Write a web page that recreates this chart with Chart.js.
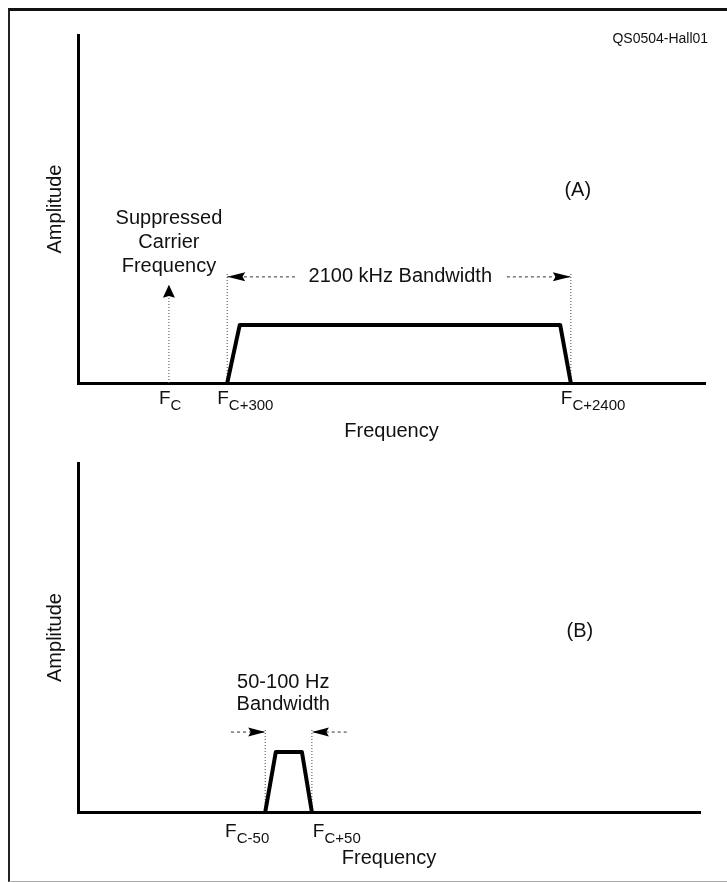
<!DOCTYPE html>
<html>
<head>
<meta charset="utf-8">
<script src="https://cdn.jsdelivr.net/npm/chart.js@4.4.1/dist/chart.umd.min.js"></script>
<style>
  html, body { margin: 0; padding: 0; background: #fff; }
  #page { position: relative; width: 727px; height: 882px; overflow: hidden; }
  #frame { position: absolute; left: 8px; top: 8px; width: 730px; height: 870px;
           border-left: 2px solid #222; border-top: 3px solid #111; border-bottom: 1px solid #aaa; }
  canvas { position: absolute; left: 0; }
  #chartA { top: 0; }
  #chartB { top: 445px; }
</style>
</head>
<body>
<div id="page">
  <div id="frame"></div>
  <canvas id="chartA" width="727" height="445"></canvas>
  <canvas id="chartB" width="727" height="437"></canvas>
</div>
<script>
// ===== data (schematic units, both axes run 0-100) =====

// (A) voice passband
const tickValuesA = [14.5, 23.8, 78.6];
const tickSubsA = ['C', 'C+300', 'C+2400'];
const bandAx = [23.8, 25.8, 76.9, 78.6];
const bandAy = [0, 16.7, 16.7, 0];
const carrierAy = [0, 28.2];
const edgeLinesAy = [0, 31.9];
const arrowLeftAx = [34.6, 23.8];
const arrowRightAx = [68.4, 78.6];
const arrowAy = 30.5;

// (B) narrow passband
const tickValuesB = [30.1, 37.6];
const tickSubsB = ['C-50', 'C+50'];
const bandBx = [30.1, 31.8, 36.0, 37.6];
const bandBy = [0, 17.2, 17.2, 0];
const edgeLinesBy = [0, 24];
const arrowLeftBx = [24.6, 30.1];
const arrowRightBx = [43.2, 37.6];
const arrowBy = 22.9;

const FONT = '"Liberation Sans", Arial, sans-serif';
const INK = '#111';

const pts = (xs, ys) => xs.map((x, i) => ({ x, y: ys[i] }));
const flat = (xs, y) => xs.map(x => ({ x, y }));

// ===== plugins =====
const arrowHeads = {
  id: 'arrowHeads',
  afterDatasetsDraw(chart) {
    const { ctx } = chart;
    chart.data.datasets.forEach((ds, i) => {
      if (!ds.arrowHead) return;
      const p = chart.getDatasetMeta(i).data;
      const a = p[p.length - 2], b = p[p.length - 1];
      const ang = Math.atan2(b.y - a.y, b.x - a.x);
      const [len, half] = ds.arrowHead;
      ctx.save();
      ctx.translate(b.x, b.y);
      ctx.rotate(ang);
      ctx.beginPath();
      ctx.moveTo(0, 0);
      ctx.lineTo(-len, -half);
      ctx.lineTo(-len * 0.85, 0);
      ctx.lineTo(-len, half);
      ctx.closePath();
      ctx.fillStyle = '#000';
      ctx.fill();
      ctx.restore();
    });
  }
};

const figureText = {
  id: 'figureText',
  afterDraw(chart, args, opts) {
    const { ctx } = chart;
    const xs = chart.scales.x, ys = chart.scales.y;
    ctx.save();
    ctx.fillStyle = INK;
    ctx.textBaseline = 'middle';
    (opts.notes || []).forEach(n => {
      ctx.font = n.font || '20px ' + FONT;
      ctx.textAlign = n.align || 'center';
      const px = xs.getPixelForValue(n.x);
      const py = ys.getPixelForValue(n.y);
      n.lines.forEach((t, i) => ctx.fillText(t, px, py + i * (n.lineHeight || 24)));
    });
    // F labels with subscripts under the axis
    const base = ys.getPixelForValue(0) + opts.tickBase;
    ctx.textBaseline = 'alphabetic';
    ctx.textAlign = 'left';
    (opts.ticks || []).forEach(t => {
      ctx.font = '19px ' + FONT;
      const wF = ctx.measureText('F').width;
      ctx.font = '15px ' + FONT;
      const wS = ctx.measureText(t.sub).width;
      let x0 = xs.getPixelForValue(t.value) + t.dx;
      if (t.align === 'right') x0 -= wF + wS;
      ctx.font = '19px ' + FONT;
      ctx.fillText('F', x0, base);
      ctx.font = '15px ' + FONT;
      ctx.fillText(t.sub, x0 + wF, base + 6);
    });
    ctx.restore();
  }
};

// ===== chart builder =====
const dotted = { borderColor: '#666', borderWidth: 1.2, borderDash: [1, 2] };
const dashed = { borderColor: '#555', borderWidth: 1.2, borderDash: [3, 3] };
const band = { borderColor: '#000', borderWidth: 4, borderJoinStyle: 'round', borderCapStyle: 'round' };

function makeChart(id, datasets, o) {
  return new Chart(document.getElementById(id), {
    type: 'line',
    data: { datasets },
    options: {
      responsive: false,
      animation: false,
      events: [],
      layout: { padding: o.padding },
      elements: { point: { radius: 0 }, line: { tension: 0, fill: false } },
      plugins: {
        legend: { display: false },
        tooltip: { enabled: false },
        figureText: o.text
      },
      scales: {
        x: {
          type: 'linear', min: 0, max: 100,
          grid: { display: false, drawTicks: false },
          ticks: { display: false },
          border: { display: true, color: '#000', width: 3 },
          title: { display: true, text: 'Frequency', color: INK,
                   font: { family: FONT, size: 20 }, padding: { top: o.freqPad, bottom: 0 } }
        },
        y: {
          type: 'linear', min: 0, max: 100,
          grid: { display: false, drawTicks: false },
          ticks: { display: false },
          border: { display: true, color: '#000', width: 3 },
          title: { display: true, text: 'Amplitude', color: INK,
                   font: { family: FONT, size: 20 }, padding: { top: 0, bottom: 11 } }
        }
      }
    },
    plugins: [arrowHeads, figureText]
  });
}

// ===== (A) =====
makeChart('chartA', [
  { data: pts(bandAx, bandAy), ...band },
  { data: pts([tickValuesA[0], tickValuesA[0]], carrierAy), ...dotted, arrowHead: [13, 6] },
  { data: pts([tickValuesA[1], tickValuesA[1]], edgeLinesAy), ...dotted },
  { data: pts([tickValuesA[2], tickValuesA[2]], edgeLinesAy), ...dotted },
  { data: flat(arrowLeftAx, arrowAy), ...dashed, arrowHead: [18, 4.5] },
  { data: flat(arrowRightAx, arrowAy), ...dashed, arrowHead: [18, 4.5] }
], {
  padding: { left: 43, right: 22, top: 35, bottom: 2 },
  freqPad: 36,
  text: {
    tickBase: 21,
    ticks: tickValuesA.map((v, i) => ({ value: v, sub: tickSubsA[i], dx: -10, align: 'left' })),
    notes: [
      { x: tickValuesA[0], y: 47.4, lines: ['Suppressed', 'Carrier', 'Frequency'] },
      { x: 51.4, y: arrowAy, lines: ['2100 kHz Bandwidth'] },
      { x: 79.7, y: 55.2, lines: ['(A)'] },
      { x: 100.5, y: 98.9, lines: ['QS0504-Hall01'], align: 'right', font: '14px ' + FONT }
    ]
  }
});

// ===== (B) =====
makeChart('chartB', [
  { data: pts(bandBx, bandBy), ...band },
  { data: pts([tickValuesB[0], tickValuesB[0]], edgeLinesBy), ...dotted },
  { data: pts([tickValuesB[1], tickValuesB[1]], edgeLinesBy), ...dotted },
  { data: flat(arrowLeftBx, arrowBy), ...dashed, arrowHead: [17, 4.5] },
  { data: flat(arrowRightBx, arrowBy), ...dashed, arrowHead: [17, 4.5] }
], {
  padding: { left: 43, right: 27, top: 18, bottom: 12 },
  freqPad: 34,
  text: {
    tickBase: 25,
    ticks: [
      { value: tickValuesB[0], sub: tickSubsB[0], dx: 4, align: 'right' },
      { value: tickValuesB[1], sub: tickSubsB[1], dx: 1, align: 'left' }
    ],
    notes: [
      { x: 33.0, y: 37.0, lines: ['50-100 Hz', 'Bandwidth'], lineHeight: 22 },
      { x: 80.7, y: 51.6, lines: ['(B)'] }
    ]
  }
});
</script>
</body>
</html>
